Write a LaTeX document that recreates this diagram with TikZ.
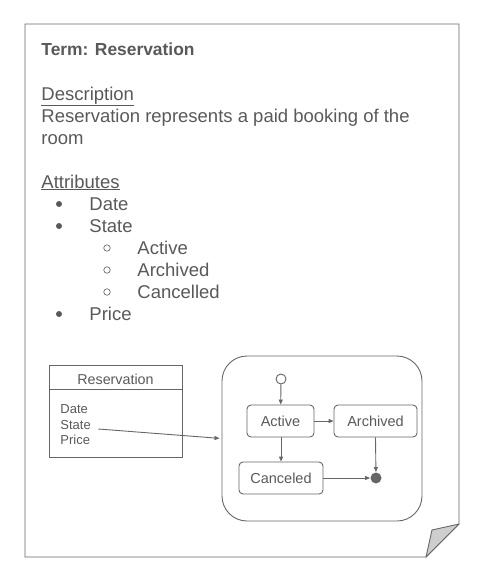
\documentclass[tikz,border=0pt]{standalone}
\usepackage{fontspec}
\setmainfont{Liberation Sans}
\usetikzlibrary{arrows.meta}
\definecolor{tc}{RGB}{89,89,89}
\definecolor{lc}{RGB}{102,102,102}
\definecolor{foldc}{RGB}{206,206,206}
\begin{document}
\begin{tikzpicture}[x=1pt,y=-1pt,
  line width=0.9pt,
  txt/.style={anchor=base west, inner sep=0pt, text=tc, font=\fontsize{18.5}{22}\selectfont},
  ttl/.style={anchor=base west, inner sep=0pt, text=tc, font=\fontsize{17.4}{20}\bfseries\selectfont},
  small/.style={inner sep=0pt, text=tc, font=\fontsize{14.3}{16}\selectfont},
  attr/.style={anchor=base west, inner sep=0pt, text=tc, font=\fontsize{13}{15}\selectfont},
  stbox/.style={draw=lc, rounded corners=4pt, minimum height=32pt, inner sep=0pt, text=tc, font=\fontsize{14.5}{16}\selectfont},
  fullbul/.style={circle, fill=tc, minimum size=6pt, inner sep=0pt},
  openbul/.style={circle, draw=tc, line width=0.6pt, minimum size=6.5pt, inner sep=0pt},
  clsbox/.style={draw=lc, minimum width=133pt, inner sep=0pt},
  arr/.style={draw=lc, -{Triangle[length=5pt,width=4pt]}}
]
\useasboundingbox (0,0) rectangle (494,576);
% page with folded corner
\draw[lc] (25,24) -- (459,24) -- (459,524) -- (426,557) -- (25,557) -- cycle;
\draw[lc, fill=foldc, line join=round] (459,524) -- (432,530) -- (426,557) -- cycle;

% texts
\node[ttl] (title) at (41,55) {Term: Reservation};
\node[txt] (desch) at (41,100) {\underline{Description}};
\node[txt] (desc1) at (41,122) {Reservation represents a paid booking of the};
\node[txt] (desc2) at (41,144) {room};
\node[txt] (attrh) at (41,188) {\underline{Attributes}};
\node[fullbul] (b1) at (59,204) {};
\node[txt] (t1) at (89,210) {Date};
\node[fullbul] (b2) at (59,226) {};
\node[txt] (t2) at (89,232) {State};
\node[openbul] (s1) at (107,248) {};
\node[txt] (u1) at (137,254) {Active};
\node[openbul] (s2) at (107,270) {};
\node[txt] (u2) at (137,276) {Archived};
\node[openbul] (s3) at (107,292) {};
\node[txt] (u3) at (137,298) {Cancelled};
\node[fullbul] (b3) at (59,314) {};
\node[txt] (t3) at (89,320) {Price};

% class box
\node[clsbox, minimum height=24pt] (clshead) at (115.5,377) {};
\node[clsbox, minimum height=68pt, anchor=north] (clsbody) at (clshead.south) {};
\node[small, anchor=base] (clsname) at (115.5,384) {Reservation};
\node[attr] (adate) at (60,413) {Date};
\node[attr] (astate) at (60,429) {State};
\node[attr] (aprice) at (60,444) {Price};

% state container
\node[draw=lc, rounded corners=25pt, minimum width=200pt, minimum height=165pt, inner sep=0pt] (cont) at (322,438.5) {};
\node[circle, draw=lc, fill=white, minimum size=10pt, inner sep=0pt] (init) at (281,379) {};
\node[stbox, minimum width=67pt] (active) at (280.5,421) {Active};
\node[stbox, minimum width=83pt] (archived) at (375.5,421) {Archived};
\node[stbox, minimum width=84pt] (canceled) at (281,478) {Canceled};
\node[circle, fill=lc, minimum size=11pt, inner sep=0pt] (final) at (376,478) {};

\draw[arr] (init) -- (active);
\draw[arr] (active) -- (archived);
\draw[arr] (active.south -| canceled.north) -- (canceled.north);
\draw[arr] (canceled) -- (final);
\draw[arr] (archived.south) -- (final);
\draw[arr, shorten >=2pt] ([xshift=7pt]astate.base east) -- (cont.west);
\end{tikzpicture}
\end{document}
